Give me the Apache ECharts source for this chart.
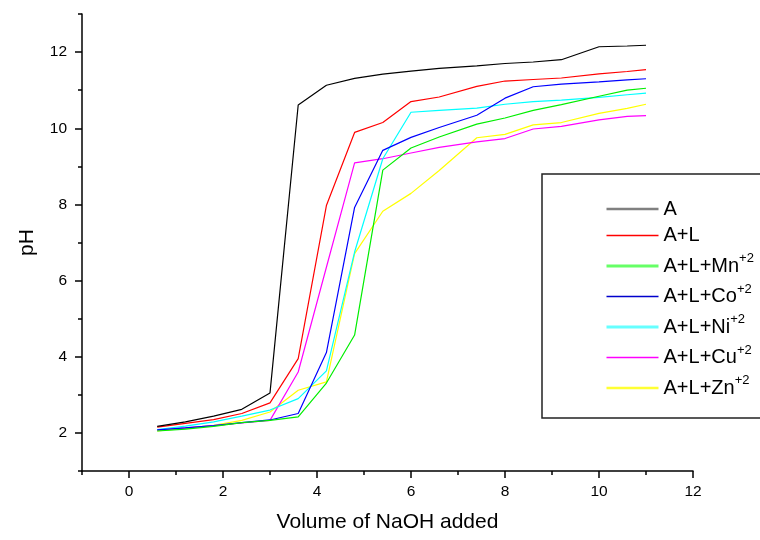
<!DOCTYPE html>
<html>
<head>
<meta charset="utf-8">
<script src="https://cdn.jsdelivr.net/npm/echarts@6/dist/echarts.min.js"></script>
<style>
  html, body { margin: 0; padding: 0; background: #fff; }
  #chart { width: 760px; height: 540px; }
</style>
</head>
<body>
<div id="chart"></div>
<script>
// volume of NaOH added
var volume = [0.6, 1.2, 1.8, 2.4, 3.0, 3.6, 4.2, 4.8, 5.4, 6.0, 6.6, 7.4, 8.0, 8.6, 9.2, 10.0, 10.6, 11.0];

// pH readings per system
var phA   = [2.17, 2.29, 2.44, 2.62, 3.05, 10.61, 11.13, 11.31, 11.42, 11.50, 11.57, 11.64, 11.70, 11.74, 11.80, 12.14, 12.16, 12.18];
var phAL  = [2.15, 2.25, 2.35, 2.51, 2.79, 3.95, 7.97, 9.89, 10.15, 10.70, 10.82, 11.10, 11.24, 11.28, 11.32, 11.43, 11.49, 11.54];
var phMn  = [2.05, 2.10, 2.17, 2.27, 2.33, 2.42, 3.31, 4.57, 8.90, 9.48, 9.77, 10.11, 10.27, 10.47, 10.62, 10.84, 11.00, 11.05];
var phCo  = [2.08, 2.13, 2.19, 2.27, 2.34, 2.51, 4.11, 7.92, 9.42, 9.76, 10.02, 10.34, 10.79, 11.09, 11.16, 11.22, 11.27, 11.30];
var phNi  = [2.09, 2.18, 2.29, 2.44, 2.60, 2.90, 3.63, 6.75, 9.20, 10.42, 10.47, 10.53, 10.63, 10.70, 10.74, 10.81, 10.88, 10.92];
var phCu  = [2.07, 2.13, 2.19, 2.26, 2.33, 3.60, 6.35, 9.09, 9.20, 9.35, 9.50, 9.64, 9.73, 9.98, 10.05, 10.22, 10.31, 10.33];
var phZn  = [2.05, 2.12, 2.20, 2.33, 2.55, 3.12, 3.34, 6.71, 7.82, 8.29, 8.89, 9.75, 9.84, 10.09, 10.15, 10.39, 10.52, 10.63];

var seriesNames = ["A", "A+L", "A+L+Mn", "A+L+Co", "A+L+Ni", "A+L+Cu", "A+L+Zn"];
var seriesData = [phA, phAL, phMn, phCo, phNi, phCu, phZn];
var colors = ["#000000", "#ff0000", "#00ee00", "#0000ff", "#00ffff", "#ff00ff", "#ffff00"];
var legendColors = ["#808080", "#ff0000", "#66ff66", "#0000cc", "#66ffff", "#ff00ff", "#ffff33"];
var legendWidths = [2.5, 1.5, 3, 1.5, 3, 1.5, 2.5];

// tick labels
var xMajor = [0, 2, 4, 6, 8, 10, 12];
var xMinor = [-1, 1, 3, 5, 7, 9, 11];
var yMajor = [2, 4, 6, 8, 10, 12];
var yMinor = [1, 3, 5, 7, 9, 11, 13];

var chart = echarts.init(document.getElementById("chart"));
var font = "Liberation Sans, Arial, sans-serif";

function pairs(ys) {
  return volume.map(function (x, i) { return [x, ys[i]]; });
}

var series = seriesNames.map(function (name, i) {
  return {
    name: name,
    type: "line",
    xAxisIndex: 0,
    yAxisIndex: 0,
    data: pairs(seriesData[i]),
    symbol: "none",
    lineStyle: { color: colors[i], width: 1.2 },
    itemStyle: { color: colors[i] },
    z: 10 - i
  };
});

var option = {
  animation: false,
  backgroundColor: "#fff",
  textStyle: { fontFamily: font },
  grid: { left: 82, right: 67, top: 14, bottom: 69 },
  xAxis: [
    {
      type: "value",
      min: -1,
      max: 12,
      name: "Volume of NaOH added",
      nameLocation: "middle",
      nameGap: 41,
      nameTextStyle: { fontSize: 21, color: "#000", fontFamily: font },
      axisLine: { onZero: false, lineStyle: { color: "#000", width: 1.5 } },
      axisTick: { length: 7, customValues: xMajor, lineStyle: { color: "#000", width: 1.5 } },
      axisLabel: { customValues: xMajor, fontSize: 15.5, color: "#000", margin: 13, fontFamily: font },
      splitLine: { show: false }
    },
    {
      type: "value",
      min: -1,
      max: 12,
      position: "bottom",
      axisLine: { show: false, onZero: false },
      axisTick: { length: 4, customValues: xMinor, lineStyle: { color: "#000", width: 1.5 } },
      axisLabel: { show: false },
      splitLine: { show: false }
    }
  ],
  yAxis: [
    {
      type: "value",
      min: 1,
      max: 13,
      name: "pH",
      nameLocation: "middle",
      nameGap: 44,
      nameTextStyle: { fontSize: 21, color: "#000", fontFamily: font },
      axisLine: { show: true, onZero: false, lineStyle: { color: "#000", width: 1.5 } },
      axisTick: { show: true, length: 7, customValues: yMajor, lineStyle: { color: "#000", width: 1.5 } },
      axisLabel: { customValues: yMajor, fontSize: 15.5, color: "#000", margin: 15, fontFamily: font },
      splitLine: { show: false }
    },
    {
      type: "value",
      min: 1,
      max: 13,
      position: "left",
      axisLine: { show: false, onZero: false },
      axisTick: { show: true, length: 4, customValues: yMinor, lineStyle: { color: "#000", width: 1.5 } },
      axisLabel: { show: false },
      splitLine: { show: false }
    }
  ],
  legend: {
    orient: "vertical",
    left: 605,
    top: 199,
    padding: 0,
    itemWidth: 52,
    itemHeight: 20,
    itemGap: 6.5,
    data: seriesNames.map(function (name, i) {
      return {
        name: name,
        itemStyle: { color: legendColors[i], opacity: 0 },
        lineStyle: { color: legendColors[i], width: legendWidths[i] }
      };
    }),
    formatter: function (name) {
      if (name === "A" || name === "A+L") return "{b|" + name + "}";
      return "{b|" + name + "}{s|+2}";
    },
    textStyle: {
      color: "#000",
      fontFamily: font,
      rich: {
        b: { fontSize: 20, lineHeight: 28, color: "#000", fontFamily: font },
        s: { fontSize: 13, lineHeight: 13, verticalAlign: "top", color: "#000", fontFamily: font }
      }
    }
  },
  graphic: [
    {
      type: "rect",
      shape: { x: 542, y: 174, width: 260, height: 244 },
      style: { fill: "none", stroke: "#222", lineWidth: 1.5 },
      z: 1
    }
  ],
  series: series
};

option && chart.setOption(option);
</script>
</body>
</html>
